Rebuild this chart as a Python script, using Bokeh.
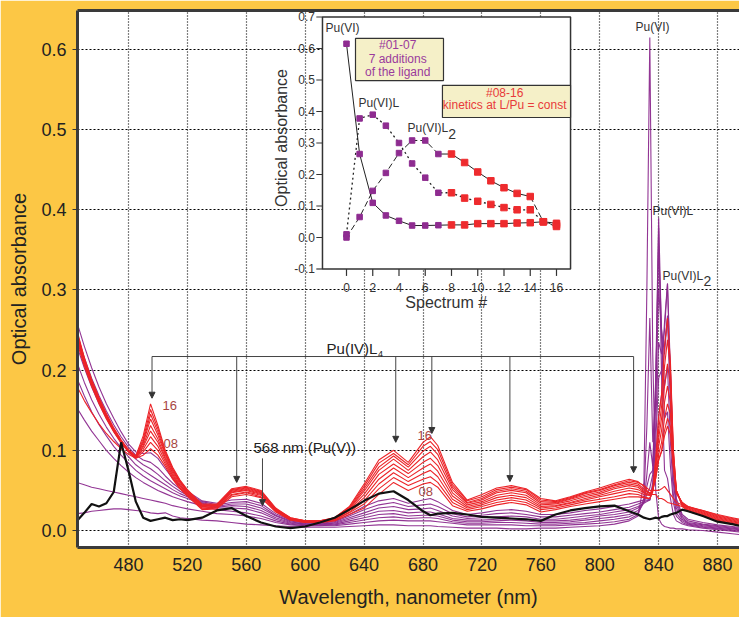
from bokeh.plotting import figure
from bokeh.models import (Range1d, LinearAxis, FixedTicker, PrintfTickFormatter,
                          ColumnDataSource, Arrow, NormalHead)
from bokeh.core.properties import value
from bokeh.embed import file_html
from bokeh.resources import INLINE

# ---------------- data ----------------
wavelength = [445, 450, 455, 460, 465, 470, 475, 480, 485, 490, 495, 500, 505, 510, 515, 520,
              530, 540, 550, 560, 570, 580, 590, 600, 610, 620, 630, 640, 650, 660, 670, 680, 685, 690,
              700, 710, 720, 730, 740, 750, 760, 770, 780, 790, 800, 810, 820,
              826, 830, 832, 834, 836, 838, 840, 842, 844, 846, 848, 850, 852, 856, 860,
              870, 880, 890, 895]

spec_00 = [0.021, 0.022, 0.024, 0.025, 0.026, 0.027, 0.027, 0.026, 0.025, 0.024, 0.022, 0.021, 0.022, 0.018, 0.016, 0.015,
           0.013, 0.012, 0.010, 0.008, 0.007, 0.006, 0.005, 0.004, 0.004, 0.004, 0.005, 0.006, 0.007, 0.007, 0.006, 0.006, 0.006, 0.005, 0.004, 0.003, 0.003, 0.003, 0.002, 0.002, 0.003, 0.003, 0.004, 0.005, 0.006, 0.008, 0.012,
           0.018, 0.060, 0.300, 0.615, 0.220, 0.050, 0.015, 0.008, 0.005, 0.004, 0.003, 0.003, 0.002, 0.002, 0.001,
           0.000, -0.002, -0.004, -0.005]
spec_01 = [0.060, 0.057, 0.054, 0.052, 0.050, 0.048, 0.046, 0.044, 0.042, 0.040, 0.038, 0.036, 0.034, 0.031, 0.029, 0.027,
           0.024, 0.021, 0.020, 0.018, 0.015, 0.010, 0.007, 0.006, 0.006, 0.006, 0.008, 0.010, 0.012, 0.013, 0.012, 0.012, 0.012, 0.011, 0.009, 0.007, 0.007, 0.007, 0.007, 0.006, 0.006, 0.006, 0.007, 0.008, 0.009, 0.011, 0.014,
           0.020, 0.040, 0.130, 0.265, 0.110, 0.170, 0.378, 0.190, 0.075, 0.065, 0.040, 0.020, 0.012, 0.008, 0.006,
           0.003, 0.001, -0.001, -0.002]
spec_02 = [0.153, 0.138, 0.124, 0.112, 0.100, 0.090, 0.081, 0.073, 0.066, 0.060, 0.055, 0.050, 0.046, 0.042, 0.039, 0.036,
           0.031, 0.026, 0.024, 0.022, 0.018, 0.012, 0.008, 0.006, 0.006, 0.007, 0.010, 0.013, 0.016, 0.017, 0.015, 0.016, 0.016, 0.015, 0.011, 0.009, 0.009, 0.010, 0.010, 0.009, 0.008, 0.008, 0.009, 0.010, 0.012, 0.014, 0.017,
           0.022, 0.035, 0.070, 0.110, 0.080, 0.190, 0.390, 0.240, 0.140, 0.148, 0.080, 0.035, 0.018, 0.010, 0.007,
           0.004, 0.002, 0.000, -0.001]
spec_03 = [0.190, 0.168, 0.148, 0.132, 0.118, 0.105, 0.094, 0.084, 0.075, 0.068, 0.062, 0.057, 0.052, 0.047, 0.043, 0.040,
           0.033, 0.028, 0.028, 0.027, 0.022, 0.014, 0.009, 0.007, 0.007, 0.008, 0.012, 0.016, 0.020, 0.021, 0.018, 0.019, 0.019, 0.018, 0.013, 0.011, 0.011, 0.012, 0.013, 0.012, 0.010, 0.010, 0.011, 0.013, 0.015, 0.017, 0.020,
           0.025, 0.035, 0.055, 0.070, 0.075, 0.180, 0.355, 0.250, 0.180, 0.205, 0.110, 0.045, 0.022, 0.012, 0.008,
           0.005, 0.003, 0.001, 0.000]
spec_04 = [0.210, 0.185, 0.163, 0.145, 0.129, 0.115, 0.103, 0.092, 0.082, 0.075, 0.069, 0.063, 0.057, 0.051, 0.046, 0.042,
           0.034, 0.029, 0.031, 0.030, 0.025, 0.016, 0.010, 0.008, 0.008, 0.009, 0.014, 0.019, 0.024, 0.025, 0.022, 0.023, 0.023, 0.021, 0.015, 0.013, 0.013, 0.014, 0.015, 0.014, 0.012, 0.012, 0.013, 0.015, 0.018, 0.020, 0.023,
           0.028, 0.035, 0.045, 0.053, 0.070, 0.160, 0.300, 0.250, 0.220, 0.268, 0.150, 0.060, 0.028, 0.014, 0.009,
           0.006, 0.004, 0.002, 0.001]
spec_05 = [0.230, 0.203, 0.179, 0.158, 0.140, 0.124, 0.110, 0.098, 0.089, 0.082, 0.077, 0.070, 0.062, 0.055, 0.049, 0.044,
           0.035, 0.030, 0.033, 0.033, 0.028, 0.018, 0.011, 0.008, 0.008, 0.010, 0.016, 0.022, 0.028, 0.030, 0.026, 0.027, 0.028, 0.025, 0.018, 0.015, 0.016, 0.017, 0.018, 0.017, 0.014, 0.014, 0.016, 0.018, 0.020, 0.023, 0.026,
           0.030, 0.034, 0.036, 0.038, 0.060, 0.130, 0.235, 0.220, 0.250, 0.308, 0.180, 0.070, 0.032, 0.016, 0.010,
           0.007, 0.005, 0.003, 0.002]
spec_06 = [0.245, 0.216, 0.190, 0.168, 0.149, 0.132, 0.117, 0.104, 0.094, 0.088, 0.085, 0.078, 0.068, 0.059, 0.052, 0.046,
           0.036, 0.032, 0.035, 0.036, 0.031, 0.019, 0.012, 0.009, 0.009, 0.011, 0.018, 0.026, 0.032, 0.035, 0.030, 0.032, 0.033, 0.030, 0.021, 0.017, 0.019, 0.021, 0.022, 0.020, 0.017, 0.017, 0.019, 0.021, 0.023, 0.026, 0.029,
           0.033, 0.036, 0.037, 0.038, 0.055, 0.110, 0.190, 0.200, 0.260, 0.308, 0.200, 0.080, 0.036, 0.018, 0.012,
           0.008, 0.006, 0.004, 0.003]
spec_07 = [0.260, 0.230, 0.203, 0.179, 0.158, 0.140, 0.123, 0.108, 0.098, 0.096, 0.097, 0.090, 0.077, 0.065, 0.056, 0.049,
           0.037, 0.034, 0.038, 0.039, 0.034, 0.021, 0.013, 0.010, 0.010, 0.012, 0.020, 0.030, 0.037, 0.040, 0.034, 0.038, 0.040, 0.036, 0.025, 0.020, 0.022, 0.025, 0.026, 0.024, 0.020, 0.020, 0.022, 0.025, 0.027, 0.030, 0.033,
           0.036, 0.038, 0.038, 0.039, 0.050, 0.090, 0.142, 0.170, 0.230, 0.265, 0.200, 0.090, 0.040, 0.020, 0.014,
           0.010, 0.007, 0.005, 0.004]
spec_08 = [0.180, 0.162, 0.147, 0.133, 0.121, 0.111, 0.102, 0.095, 0.090, 0.094, 0.102, 0.094, 0.080, 0.064, 0.052, 0.043,
           0.026, 0.027, 0.042, 0.045, 0.041, 0.023, 0.013, 0.010, 0.010, 0.012, 0.020, 0.028, 0.045, 0.060, 0.050, 0.058, 0.060, 0.054, 0.031, 0.024, 0.027, 0.032, 0.035, 0.032, 0.023, 0.026, 0.030, 0.033, 0.036, 0.039, 0.042,
           0.042, 0.041, 0.040, 0.040, 0.050, 0.090, 0.142, 0.170, 0.230, 0.265, 0.210, 0.100, 0.050, 0.030, 0.024,
           0.018, 0.012, 0.008, 0.006]
spec_09 = [0.235, 0.205, 0.180, 0.158, 0.139, 0.123, 0.109, 0.098, 0.090, 0.098, 0.110, 0.100, 0.083, 0.066, 0.053, 0.044,
           0.027, 0.028, 0.044, 0.047, 0.042, 0.024, 0.013, 0.010, 0.010, 0.013, 0.022, 0.033, 0.052, 0.066, 0.056, 0.064, 0.067, 0.060, 0.035, 0.026, 0.030, 0.035, 0.038, 0.035, 0.026, 0.028, 0.032, 0.036, 0.039, 0.042, 0.046,
           0.045, 0.042, 0.041, 0.040, 0.048, 0.085, 0.125, 0.155, 0.205, 0.238, 0.200, 0.100, 0.050, 0.031, 0.025,
           0.019, 0.013, 0.009, 0.007]
spec_10 = [0.238, 0.207, 0.182, 0.160, 0.141, 0.124, 0.110, 0.099, 0.091, 0.101, 0.117, 0.105, 0.086, 0.068, 0.055, 0.045,
           0.028, 0.029, 0.045, 0.048, 0.044, 0.025, 0.014, 0.011, 0.011, 0.013, 0.023, 0.037, 0.058, 0.072, 0.061, 0.071, 0.075, 0.067, 0.039, 0.028, 0.032, 0.038, 0.041, 0.038, 0.028, 0.030, 0.034, 0.038, 0.042, 0.046, 0.050,
           0.048, 0.045, 0.044, 0.044, 0.050, 0.080, 0.115, 0.140, 0.180, 0.208, 0.180, 0.095, 0.050, 0.032, 0.026,
           0.020, 0.014, 0.010, 0.008]
spec_11 = [0.240, 0.209, 0.183, 0.161, 0.142, 0.125, 0.111, 0.100, 0.091, 0.104, 0.124, 0.110, 0.089, 0.070, 0.056, 0.046,
           0.029, 0.030, 0.047, 0.050, 0.045, 0.025, 0.014, 0.011, 0.011, 0.014, 0.025, 0.041, 0.064, 0.078, 0.066, 0.078, 0.083, 0.074, 0.043, 0.030, 0.034, 0.041, 0.044, 0.041, 0.030, 0.031, 0.035, 0.040, 0.044, 0.049, 0.053,
           0.051, 0.047, 0.045, 0.044, 0.050, 0.075, 0.105, 0.125, 0.160, 0.180, 0.160, 0.090, 0.050, 0.033, 0.027,
           0.021, 0.015, 0.011, 0.009]
spec_12 = [0.242, 0.210, 0.184, 0.162, 0.143, 0.126, 0.111, 0.100, 0.092, 0.106, 0.131, 0.114, 0.091, 0.072, 0.058, 0.047,
           0.030, 0.031, 0.048, 0.051, 0.046, 0.026, 0.015, 0.011, 0.011, 0.014, 0.026, 0.045, 0.070, 0.083, 0.071, 0.085, 0.090, 0.081, 0.047, 0.032, 0.036, 0.044, 0.047, 0.044, 0.032, 0.033, 0.037, 0.042, 0.046, 0.052, 0.056,
           0.054, 0.048, 0.046, 0.044, 0.050, 0.070, 0.095, 0.110, 0.140, 0.158, 0.145, 0.085, 0.048, 0.034, 0.028,
           0.022, 0.016, 0.012, 0.010]
spec_13 = [0.244, 0.212, 0.185, 0.163, 0.143, 0.126, 0.112, 0.100, 0.092, 0.109, 0.139, 0.119, 0.094, 0.074, 0.060, 0.048,
           0.031, 0.031, 0.049, 0.052, 0.047, 0.026, 0.015, 0.011, 0.011, 0.015, 0.027, 0.049, 0.075, 0.089, 0.075, 0.092, 0.098, 0.088, 0.051, 0.034, 0.038, 0.047, 0.050, 0.047, 0.034, 0.034, 0.039, 0.044, 0.048, 0.054, 0.058,
           0.056, 0.050, 0.048, 0.046, 0.050, 0.065, 0.088, 0.100, 0.125, 0.140, 0.130, 0.080, 0.047, 0.035, 0.029,
           0.023, 0.017, 0.013, 0.011]
spec_14 = [0.246, 0.213, 0.186, 0.164, 0.144, 0.127, 0.112, 0.100, 0.092, 0.111, 0.145, 0.123, 0.096, 0.076, 0.061, 0.049,
           0.031, 0.032, 0.050, 0.053, 0.048, 0.027, 0.015, 0.012, 0.012, 0.015, 0.028, 0.052, 0.079, 0.093, 0.079, 0.099, 0.105, 0.095, 0.054, 0.035, 0.040, 0.049, 0.052, 0.049, 0.036, 0.035, 0.040, 0.046, 0.050, 0.056, 0.060,
           0.058, 0.052, 0.049, 0.047, 0.050, 0.065, 0.088, 0.098, 0.118, 0.130, 0.120, 0.078, 0.046, 0.035, 0.030,
           0.024, 0.018, 0.014, 0.012]
spec_15 = [0.248, 0.214, 0.187, 0.165, 0.145, 0.127, 0.112, 0.100, 0.092, 0.114, 0.151, 0.127, 0.098, 0.077, 0.062, 0.050,
           0.032, 0.032, 0.051, 0.054, 0.049, 0.027, 0.016, 0.012, 0.012, 0.016, 0.029, 0.055, 0.084, 0.096, 0.082, 0.105, 0.111, 0.101, 0.057, 0.037, 0.042, 0.051, 0.054, 0.051, 0.038, 0.036, 0.041, 0.047, 0.051, 0.057, 0.062,
           0.060, 0.056, 0.053, 0.050, 0.050, 0.050, 0.050, 0.052, 0.055, 0.050, 0.045, 0.040, 0.035, 0.032, 0.030,
           0.025, 0.019, 0.015, 0.013]
spec_16 = [0.250, 0.216, 0.188, 0.166, 0.146, 0.128, 0.113, 0.101, 0.093, 0.118, 0.158, 0.131, 0.100, 0.079, 0.063, 0.051,
           0.033, 0.033, 0.052, 0.055, 0.050, 0.028, 0.016, 0.012, 0.012, 0.016, 0.030, 0.058, 0.088, 0.100, 0.085, 0.110, 0.117, 0.106, 0.060, 0.038, 0.045, 0.053, 0.056, 0.052, 0.040, 0.037, 0.042, 0.048, 0.053, 0.059, 0.064,
           0.061, 0.055, 0.050, 0.045, 0.045, 0.045, 0.040, 0.040, 0.038, 0.035, 0.034, 0.033, 0.032, 0.030, 0.029,
           0.025, 0.020, 0.016, 0.014]
spec_black = [0.012, 0.022, 0.033, 0.030, 0.034, 0.048, 0.110, 0.075, 0.036, 0.016, 0.012, 0.014, 0.016, 0.013, 0.014, 0.013,
              0.016, 0.025, 0.028, 0.018, 0.010, 0.005, 0.003, 0.005, 0.010, 0.016, 0.026, 0.037, 0.046, 0.049, 0.038, 0.024, 0.019, 0.021, 0.022, 0.020, 0.017, 0.016, 0.015, 0.014, 0.012, 0.020, 0.025, 0.028, 0.030, 0.031, 0.024,
              0.020, 0.016, 0.015, 0.014, 0.015, 0.016, 0.015, 0.017, 0.018, 0.018, 0.020, 0.021, 0.022, 0.026, 0.024,
              0.018, 0.011, 0.008, 0.006]

purple_spectra = [spec_00, spec_01, spec_02, spec_03, spec_04, spec_05, spec_06, spec_07]
red_spectra = [spec_08, spec_09, spec_10, spec_11, spec_12, spec_13, spec_14, spec_15, spec_16]
for s in purple_spectra + red_spectra + [spec_black]:
    assert len(s) == len(wavelength), len(s)

# inset: absorbance at the three band maxima vs spectrum number
inset_spectrum = list(range(17))
inset_pu6 = [0.615, 0.265, 0.110, 0.070, 0.053, 0.038, 0.038, 0.039,
             0.040, 0.040, 0.044, 0.044, 0.044, 0.046, 0.047, 0.050, 0.045]
inset_pu6_L = [0.010, 0.378, 0.390, 0.355, 0.300, 0.235, 0.190, 0.142,
               0.142, 0.125, 0.115, 0.105, 0.095, 0.088, 0.088, 0.050, 0.040]
inset_pu6_L2 = [0.000, 0.065, 0.148, 0.205, 0.268, 0.308, 0.308, 0.265,
                0.265, 0.238, 0.208, 0.180, 0.158, 0.140, 0.130, 0.050, 0.035]

x_ticks = [480, 520, 560, 600, 640, 680, 720, 760, 800, 840, 880]
y_ticks = [0.0, 0.1, 0.2, 0.3, 0.4, 0.5, 0.6]
inset_x_ticks = [0, 2, 4, 6, 8, 10, 12, 14, 16]
inset_y_ticks = [-0.1, 0.0, 0.1, 0.2, 0.3, 0.4, 0.5, 0.6, 0.7]

# Pu(IV)L4 band positions and arrow tips
band_wl = [496, 553.5, 661.5, 686, 739, 823]
band_tip = [0.165, 0.060, 0.110, 0.121, 0.061, 0.072]

# ---------------- styling ----------------
BG = "#FCC745"
PURPLE = "#8C2A8E"
RED = "#EC2428"
BROWN = "#A8463F"
DARK = "#333333"
FONT = "Liberation Sans"

p = figure(width=739, height=617,
           x_range=Range1d(445.4, 894.9), y_range=Range1d(-0.0212, 0.6486),
           output_backend="svg", toolbar_location=None,
           min_border_left=77, min_border_right=0, min_border_top=10, min_border_bottom=70)
p.extra_x_ranges = {"ix": Range1d(-20.495, 29.943)}
p.extra_y_ranges = {"iy": Range1d(-0.9841, 0.7206)}

p.outline_line_color = None
p.background_fill_color = "white"
p.border_fill_color = BG

for ax in (p.xaxis, p.yaxis):
    ax.axis_line_width = 3
    ax.axis_line_color = "#3a3a3a"
    ax.minor_tick_line_color = None
    ax.major_label_text_font = FONT
    ax.major_label_text_font_size = "18px"
    ax.major_label_text_color = "#222222"
    ax.axis_label_text_font = FONT
    ax.axis_label_text_font_size = "20px"
    ax.axis_label_text_font_style = "normal"
    ax.axis_label_text_color = "#222222"
    ax.major_tick_line_color = "#333333"

p.xaxis.ticker = FixedTicker(ticks=x_ticks)
p.yaxis.ticker = FixedTicker(ticks=y_ticks)
p.yaxis.formatter = PrintfTickFormatter(format="%.1f")
p.xaxis.major_tick_out = 0
p.xaxis.major_tick_in = 0
p.yaxis.major_tick_out = 5
p.yaxis.major_tick_in = 0
p.xaxis.major_label_standoff = 10
p.yaxis.major_label_standoff = 6
p.xaxis.axis_label = "Wavelength, nanometer (nm)"
p.yaxis.axis_label = "Optical absorbance"
p.xaxis.axis_label_standoff = 12
p.yaxis.axis_label_standoff = 8

top_axis = LinearAxis(ticker=FixedTicker(ticks=[]), major_label_text_font_size="0px",
                      major_tick_out=0, major_tick_in=0, minor_tick_out=0, minor_tick_in=0,
                      major_label_standoff=0, axis_line_width=3, axis_line_color="#3a3a3a")
p.add_layout(top_axis, "above")

p.xgrid.ticker = FixedTicker(ticks=x_ticks)
p.ygrid.ticker = FixedTicker(ticks=y_ticks)
p.xgrid.grid_line_color = "#000000"
p.xgrid.grid_line_width = 1.2
p.xgrid.grid_line_dash = "1 2"
p.ygrid.grid_line_color = "#000000"
p.ygrid.grid_line_width = 1.2
p.ygrid.grid_line_dash = "2 2"

# ---------------- inset (drawn in its own ranges) ----------------
IR = dict(x_range_name="ix", y_range_name="iy")
p.quad(left=[-1.83], right=[17.07], bottom=[-0.1], top=[0.7],
       fill_color="white", line_color=DARK, line_width=1.5, **IR)

# ---------------- spectra ----------------
for s in purple_spectra:
    p.line(wavelength, s, line_color=PURPLE, line_width=1.1, line_alpha=0.95)
for s in red_spectra:
    p.line(wavelength, s, line_color=RED, line_width=1.1)
p.line(wavelength, spec_black, line_color="#111111", line_width=2.2)


def txt(x, y, s, size, color=DARK, align="left", baseline="middle", angle=0.0, inset=False):
    kw = IR if inset else {}
    p.text(x=[x], y=[y], text=[s], text_font=value(FONT), text_font_size=f"{size}px",
           text_color=color, text_align=align, text_baseline=baseline, angle=angle, **kw)


# inset axes
n_y = len(inset_y_ticks)
p.segment(x0=[-1.83] * n_y, y0=inset_y_ticks, x1=[-2.3] * n_y, y1=inset_y_ticks,
          line_color=DARK, line_width=1.2, **IR)
p.text(x=[-2.4] * n_y, y=inset_y_ticks, text=[f"{v:.1f}" for v in inset_y_ticks],
       text_font=value(FONT), text_font_size="12px", text_color=DARK,
       text_align="right", text_baseline="middle", **IR)
n_x = len(inset_x_ticks)
p.segment(x0=inset_x_ticks, y0=[-0.1] * n_x, x1=inset_x_ticks, y1=[-0.122] * n_x,
          line_color=DARK, line_width=1.2, **IR)
p.text(x=inset_x_ticks, y=[-0.16] * n_x, text=[str(v) for v in inset_x_ticks],
       text_font=value(FONT), text_font_size="12px", text_color=DARK,
       text_align="center", text_baseline="middle", **IR)
txt(7.6, -0.206, "Spectrum #", 16, align="center", inset=True)
txt(-4.95, 0.316, "Optical absorbance", 16, align="center", angle=1.5708, inset=True)

# inset series
p.line(inset_spectrum, inset_pu6, line_color="#222222", line_width=1, **IR)
p.line(inset_spectrum, inset_pu6_L, line_color="#222222", line_width=1.3, line_dash="2 3", **IR)
p.line(inset_spectrum[:8], inset_pu6_L2[:8], line_color="#222222", line_width=1, line_dash="6 3", **IR)
p.line(inset_spectrum[7:15], inset_pu6_L2[7:15], line_color="#222222", line_width=1, **IR)
p.line(inset_spectrum[14:], inset_pu6_L2[14:], line_color="#222222", line_width=1, line_dash="6 3", **IR)
for series in (inset_pu6, inset_pu6_L, inset_pu6_L2):
    p.scatter(inset_spectrum[:8], series[:8], marker="square", size=5.5,
              fill_color="#8E2C90", line_color="#8E2C90", **IR)
    p.scatter(inset_spectrum[8:], series[8:], marker="square", size=6.5,
              fill_color="#EE2B2E", line_color="#EE2B2E", **IR)

txt(-1.6, 0.665, "Pu(VI)", 12, inset=True)
txt(0.91, 0.427, "Pu(VI)L", 12, inset=True)
txt(4.65, 0.348, "Pu(VI)L", 12, inset=True)
txt(7.75, 0.33, "2", 14, inset=True)

p.quad(left=[0.686], right=[7.39], bottom=[0.498], top=[0.632],
       fill_color="#F5F0C8", line_color=DARK, line_width=1.2, **IR)
txt(3.9, 0.6095, "#01-07", 12, color="#9A3A9C", align="center", inset=True)
txt(3.9, 0.568, "7 additions", 12, color="#9A3A9C", align="center", inset=True)
txt(3.9, 0.525, "of the ligand", 12, color="#9A3A9C", align="center", inset=True)

p.quad(left=[7.31], right=[17.07], bottom=[0.381], top=[0.483],
       fill_color="#F5F0C8", line_color=DARK, line_width=1.2, **IR)
txt(12.05, 0.460, "#08-16", 12, color="#E83A3A", align="center", inset=True)
txt(12.05, 0.4205, "kinetics at L/Pu = const", 12, color="#E83A3A", align="center", inset=True)

# ---------------- main annotations ----------------
bar_y = 0.217
p.line([band_wl[0], band_wl[-1]], [bar_y, bar_y], line_color="#444444", line_width=1)
arrow_src = ColumnDataSource(dict(x0=band_wl, y0=[bar_y] * len(band_wl),
                                  x1=band_wl, y1=band_tip))
p.add_layout(Arrow(end=NormalHead(size=6, fill_color="#333333", line_color="#333333", line_width=1),
                   x_start="x0", y_start="y0", x_end="x1", y_end="y1", source=arrow_src,
                   line_color="#444444", line_width=1))
txt(614.5, 0.2264, "Pu(IV)L", 15, color="#222222")
txt(649.5, 0.2205, "4", 9, color="#222222")

p.add_layout(Arrow(end=NormalHead(size=6, fill_color="#333333", line_color="#333333", line_width=1),
                   x_start=571, y_start=0.090, x_end=571, y_end=0.031,
                   line_color="#444444", line_width=1))
txt(564.9, 0.104, "568 nm (Pu(V))", 15, color="#222222")

txt(503.1, 0.156, "16", 13, color=BROWN)
txt(503.8, 0.108, "08", 13, color=BROWN)
txt(676.3, 0.1185, "16", 13, color=BROWN)
txt(677.0, 0.049, "08", 13, color=BROWN)

txt(824.3, 0.6274, "Pu(VI)", 12)
txt(835.9, 0.399, "Pu(VI)L", 12)
txt(842.6, 0.318, "Pu(VI)L", 12)
txt(870.5, 0.311, "2", 14)

open("out.html", "w").write(file_html(p, INLINE))
